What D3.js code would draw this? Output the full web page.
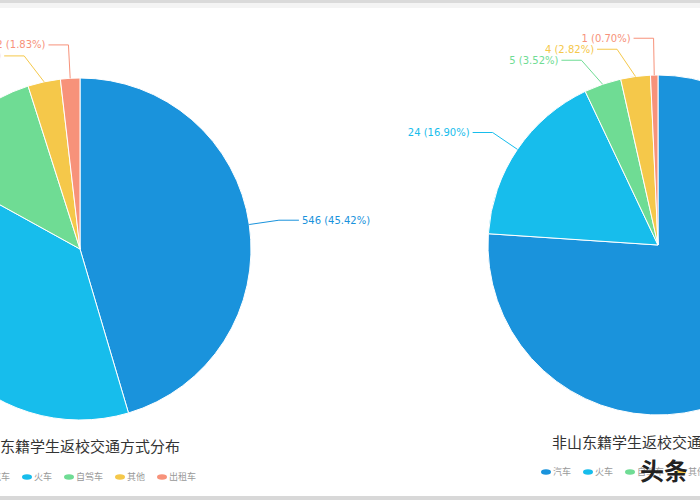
<!DOCTYPE html>
<html>
<head>
<meta charset="utf-8">
<script src="https://cdn.jsdelivr.net/npm/d3@7"></script>
<style>
  html, body { margin: 0; padding: 0; background: #fff; overflow: hidden; }
  text { font-family: "Noto Sans CJK SC", "DejaVu Sans", sans-serif; }
  .lbl { font-family: "DejaVu Sans", sans-serif; font-size: 10px; }
</style>
</head>
<body>
<div id="chart"></div>
<script>
const width = 700;
const height = 500;

// data
const categories = ['汽车', '火车', '自驾车', '其他', '出租车'];
const colors = ['#1a93dc', '#17bdec', '#6fdc94', '#f5c84a', '#f7927a'];
const shandong = [546, 452, 145, 37, 22];
const nonShandong = [108, 24, 5, 4, 1];
const titles = ['山东籍学生返校交通方式分布', '非山东籍学生返校交通方式分布'];

// the screenshot is cropped, so both pies sit partly outside the frame
const panels = [
    { values: shandong, title: titles[0], cx: 80, cy: 249, r: 171, titleX: -15, titleY: 452, legendX: -15, legendY: 477 },
    { values: nonShandong, title: titles[1], cx: 658, cy: 245, r: 170, titleX: 552, titleY: 448, legendX: 546, legendY: 472 }
];

const svg = d3.select("#chart")
    .append("svg")
    .attr("width", width)
    .attr("height", height);

// grey frame bands of the screenshot
svg.append("rect").attr("x", 0).attr("y", 0).attr("width", width).attr("height", 3).attr("fill", "#dadada");
svg.append("rect").attr("x", 0).attr("y", 3).attr("width", width).attr("height", 5).attr("fill", "#f4f4f4");
svg.append("rect").attr("x", 0).attr("y", 496).attr("width", width).attr("height", 4).attr("fill", "#d8d8d8");

const color = d3.scaleOrdinal().domain(categories).range(colors);
const pie = d3.pie().sort(null).value(d => d.value);

panels.forEach(p => {
    const data = categories.map((c, i) => ({ name: c, value: p.values[i] }));
    const total = d3.sum(p.values);
    const arcs = pie(data);
    const arc = d3.arc().innerRadius(0).outerRadius(p.r);

    const g = svg.append("g").attr("transform", `translate(${p.cx},${p.cy})`);

    g.selectAll("path.slice")
        .data(arcs)
        .enter().append("path")
        .attr("class", "slice")
        .attr("d", arc)
        .attr("fill", d => color(d.data.name))
        .attr("stroke", "#fff")
        .attr("stroke-width", 1);

    // label layout: radial segment, then horizontal segment, pushed apart when crowded
    const len1 = 30, len2 = 20, gap = 11;
    const R = p.r + len1;
    const labels = arcs.map(a => {
        const mid = (a.startAngle + a.endAngle) / 2;
        const s = Math.sin(mid), c = Math.cos(mid);
        return {
            a: a,
            right: s >= 0,
            sx: p.r * s, sy: -p.r * c,
            ex: R * s,
            ly: -R * c
        };
    });
    [true, false].forEach(side => {
        const grp = labels.filter(l => l.right === side).sort((x, y) => x.ly - y.ly);
        for (let k = 0; k < 60; k++) {
            for (let i = 0; i < grp.length - 1; i++) {
                const d = grp[i + 1].ly - grp[i].ly;
                if (d < gap) {
                    const sh = (gap - d) / 2;
                    grp[i].ly -= sh;
                    grp[i + 1].ly += sh;
                }
            }
        }
        // keep the bend point on the outer circle after shifting
        grp.forEach(l => {
            if (Math.abs(l.ly) < R) {
                l.ex = (side ? 1 : -1) * Math.sqrt(R * R - l.ly * l.ly);
            }
        });
    });

    const line = d3.line();
    g.selectAll("path.lline")
        .data(labels)
        .enter().append("path")
        .attr("class", "lline")
        .attr("d", l => line([[l.sx, l.sy], [l.ex, l.ly], [l.ex + (l.right ? len2 : -len2), l.ly]]))
        .attr("fill", "none")
        .attr("stroke", l => color(l.a.data.name))
        .attr("stroke-width", 1);

    g.selectAll("text.lbl")
        .data(labels)
        .enter().append("text")
        .attr("class", "lbl")
        .attr("x", l => l.ex + (l.right ? len2 + 3 : -len2 - 3))
        .attr("y", l => l.ly)
        .attr("dy", "0.35em")
        .attr("text-anchor", l => l.right ? "start" : "end")
        .attr("fill", l => color(l.a.data.name))
        .text(l => `${l.a.data.value} (${(l.a.data.value / total * 100).toFixed(2)}%)`);

    // title
    svg.append("text")
        .attr("x", p.titleX)
        .attr("y", p.titleY)
        .attr("font-size", 15)
        .attr("fill", "#333")
        .text(p.title);

    // legend
    let lx = p.legendX;
    categories.forEach(c => {
        const item = svg.append("g").attr("transform", `translate(${lx},${p.legendY})`);
        item.append("ellipse").attr("rx", 5).attr("ry", 2.8).attr("fill", color(c));
        item.append("text")
            .attr("x", 7)
            .attr("dy", "0.35em")
            .attr("font-size", 9)
            .attr("fill", "#999")
            .text(c);
        lx += c.length * 9 + 24;
    });
});

// screenshot watermark
svg.append("text")
    .attr("x", 640)
    .attr("y", 480)
    .attr("font-size", 24)
    .attr("font-weight", "bold")
    .attr("fill", "#222")
    .text("头条");
</script>
</body>
</html>
